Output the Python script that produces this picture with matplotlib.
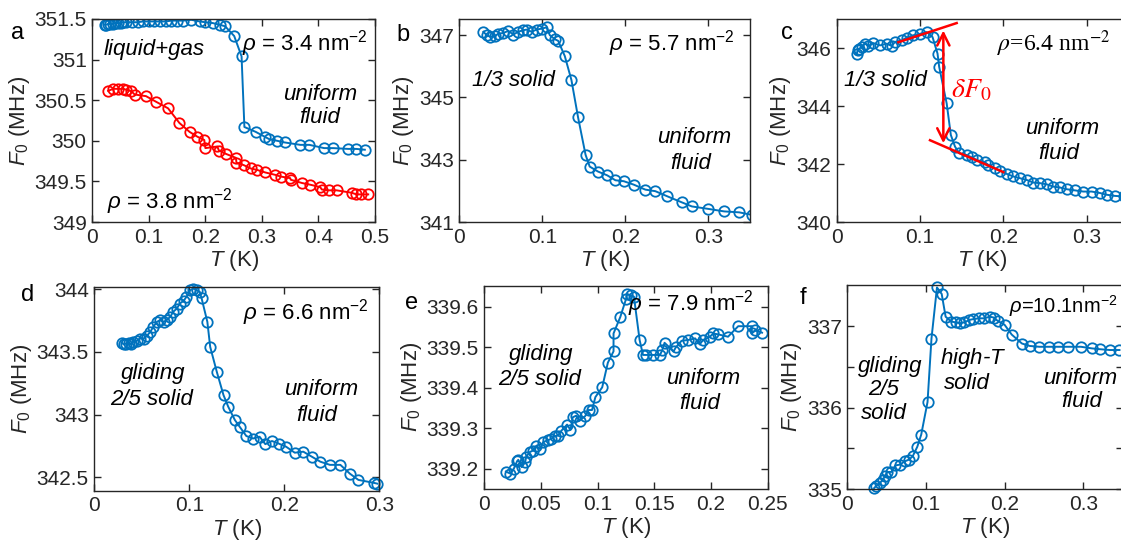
import matplotlib
matplotlib.use("Agg")
import matplotlib.pyplot as plt
from matplotlib.ticker import FixedLocator

plt.rcParams['font.family'] = ['Liberation Sans', 'DejaVu Sans']
plt.rcParams['mathtext.fontset'] = 'custom'
plt.rcParams['mathtext.rm'] = 'Liberation Sans'
plt.rcParams['mathtext.it'] = 'Liberation Sans:italic'
plt.rcParams['mathtext.bf'] = 'Liberation Sans:bold'

BLUE = '#0072BD'
RED = '#FF0000'
DARK = '#262626'

# ---------------- data ----------------
# panel a, rho = 3.4 nm^-2
a_blue_T = [0.022, 0.025, 0.028, 0.032, 0.036, 0.040, 0.045, 0.050, 0.055, 0.060, 0.070, 0.080,
            0.090, 0.100, 0.110, 0.120, 0.130, 0.140, 0.150, 0.160, 0.175, 0.190, 0.200, 0.213,
            0.225, 0.235, 0.251, 0.264, 0.269, 0.289, 0.305, 0.313, 0.327, 0.340, 0.368, 0.384,
            0.410, 0.426, 0.453, 0.467, 0.482]
a_blue_F = [351.43, 351.43, 351.44, 351.44, 351.44, 351.45, 351.45, 351.45, 351.46, 351.46, 351.46,
            351.46, 351.47, 351.47, 351.47, 351.47, 351.47, 351.48, 351.48, 351.48, 351.49, 351.47,
            351.46, 351.45, 351.43, 351.41, 351.29, 351.04, 350.17, 350.11, 350.05, 350.02, 350.00,
            349.98, 349.95, 349.95, 349.91, 349.91, 349.90, 349.90, 349.89]
# panel a, rho = 3.8 nm^-2
a_red_T = [0.028, 0.037, 0.046, 0.054, 0.060, 0.069, 0.075, 0.095, 0.113, 0.134, 0.154, 0.172,
           0.186, 0.198, 0.200, 0.221, 0.224, 0.236, 0.254, 0.255, 0.268, 0.280, 0.292, 0.306,
           0.324, 0.333, 0.350, 0.351, 0.371, 0.385, 0.403, 0.406, 0.418, 0.432, 0.459, 0.467,
           0.476, 0.488]
a_red_F = [350.615, 350.64, 350.64, 350.64, 350.63, 350.61, 350.57, 350.55, 350.48, 350.40, 350.22,
           350.11, 350.05, 350.01, 349.91, 349.93, 349.88, 349.84, 349.79, 349.73, 349.70, 349.66,
           349.64, 349.61, 349.58, 349.56, 349.54, 349.52, 349.48, 349.46, 349.43, 349.40, 349.39,
           349.39, 349.36, 349.34, 349.34, 349.34]

# panel b, rho = 5.7 nm^-2
b_T = [0.029, 0.033, 0.037, 0.043, 0.047, 0.053, 0.059, 0.065, 0.071, 0.077, 0.081, 0.087, 0.093,
       0.099, 0.105, 0.109, 0.115, 0.119, 0.127, 0.135, 0.143, 0.152, 0.157, 0.167, 0.178, 0.188,
       0.198, 0.210, 0.224, 0.236, 0.250, 0.268, 0.280, 0.300, 0.319, 0.337, 0.352]
b_F = [347.11, 347.00, 346.95, 346.97, 347.05, 347.07, 347.14, 347.02, 347.11, 347.16, 347.18,
       347.11, 347.18, 347.21, 347.25, 347.00, 346.87, 346.82, 346.33, 345.56, 344.36, 343.16,
       342.78, 342.62, 342.50, 342.34, 342.31, 342.20, 342.04, 341.99, 341.83, 341.63, 341.50,
       341.42, 341.34, 341.31, 341.23]

# panel c, rho = 6.4 nm^-2
c_T = [0.024, 0.025, 0.027, 0.030, 0.034, 0.038, 0.044, 0.052, 0.060, 0.066, 0.070, 0.078, 0.084,
       0.092, 0.100, 0.108, 0.115, 0.121, 0.123, 0.132, 0.137, 0.142, 0.147, 0.156, 0.162, 0.168,
       0.178, 0.182, 0.190, 0.196, 0.204, 0.212, 0.220, 0.228, 0.236, 0.244, 0.252, 0.260, 0.268,
       0.276, 0.286, 0.296, 0.306, 0.316, 0.324, 0.334, 0.345]
c_F = [345.78, 345.92, 345.98, 346.03, 346.15, 346.07, 346.17, 346.09, 346.15, 346.07, 346.21,
       346.26, 346.36, 346.44, 346.49, 346.55, 346.38, 345.81, 345.35, 344.09, 343.00, 342.60,
       342.37, 342.31, 342.23, 342.14, 342.06, 341.97, 341.85, 341.77, 341.66, 341.57, 341.51,
       341.45, 341.36, 341.34, 341.30, 341.22, 341.19, 341.13, 341.09, 341.05, 341.05, 341.00,
       340.94, 340.90, 340.88]
# panel c guide lines and arrow
c_upper_T = [0.074, 0.144]
c_upper_F = [346.20, 346.86]
c_lower_T = [0.112, 0.200]
c_lower_F = [342.82, 341.72]
c_arrow_T = 0.128
c_arrow_F = [346.70, 342.62]

# panel d, rho = 6.6 nm^-2
d_T = [0.029, 0.031, 0.033, 0.036, 0.039, 0.041, 0.045, 0.048, 0.052, 0.055, 0.059, 0.062, 0.066,
       0.069, 0.073, 0.076, 0.080, 0.083, 0.087, 0.090, 0.094, 0.097, 0.101, 0.104, 0.108, 0.111,
       0.113, 0.119, 0.122, 0.129, 0.136, 0.141, 0.148, 0.153, 0.160, 0.167, 0.174, 0.180, 0.187,
       0.194, 0.202, 0.211, 0.220, 0.229, 0.238, 0.248, 0.259, 0.269, 0.278, 0.294, 0.298]
d_F = [343.573, 343.56, 343.567, 343.573, 343.56, 343.58, 343.59, 343.607, 343.607, 343.626, 343.66,
       343.70, 343.74, 343.753, 343.74, 343.753, 343.78, 343.82, 343.846, 343.886, 343.907, 343.939,
       343.992, 344.005, 343.992, 343.98, 343.926, 343.74, 343.54, 343.34, 343.156, 343.063,
       342.957, 342.904, 342.83, 342.81, 342.824, 342.765, 342.79, 342.77, 342.744, 342.697,
       342.705, 342.665, 342.625, 342.60, 342.60, 342.53, 342.48, 342.457, 342.45]

# panel e, rho = 7.9 nm^-2
e_T = [0.019, 0.023, 0.026, 0.029, 0.030, 0.033, 0.036, 0.037, 0.040, 0.043, 0.046, 0.049, 0.052,
       0.056, 0.059, 0.062, 0.065, 0.068, 0.073, 0.076, 0.078, 0.081, 0.084, 0.089, 0.092, 0.095,
       0.098, 0.104, 0.109, 0.114, 0.114, 0.120, 0.125, 0.126, 0.129, 0.132, 0.137, 0.140, 0.143,
       0.149, 0.155, 0.157, 0.159, 0.167, 0.169, 0.174, 0.180, 0.186, 0.190, 0.193, 0.199, 0.202,
       0.206, 0.215, 0.224, 0.236, 0.236, 0.239, 0.245]
e_F = [339.193, 339.188, 339.200, 339.219, 339.222, 339.204, 339.216, 339.230, 339.241, 339.245,
       339.257, 339.249, 339.266, 339.270, 339.274, 339.280, 339.282, 339.294, 339.309, 339.296,
       339.327, 339.331, 339.319, 339.330, 339.345, 339.345, 339.377, 339.401, 339.462, 339.490,
       339.534, 339.575, 339.619, 339.631, 339.629, 339.625, 339.518, 339.481, 339.481, 339.481,
       339.481, 339.493, 339.511, 339.490, 339.500, 339.516, 339.518, 339.522, 339.507, 339.518,
       339.526, 339.534, 339.532, 339.526, 339.552, 339.552, 339.534, 339.542, 339.536]

# panel f, rho = 10.1 nm^-2
f_T = [0.034, 0.037, 0.041, 0.045, 0.048, 0.051, 0.056, 0.061, 0.067, 0.073, 0.078, 0.083, 0.089,
       0.094, 0.102, 0.107, 0.114, 0.120, 0.125, 0.132, 0.138, 0.143, 0.149, 0.155, 0.160, 0.167,
       0.174, 0.181, 0.186, 0.191, 0.200, 0.209, 0.222, 0.232, 0.244, 0.256, 0.268, 0.281, 0.297,
       0.311, 0.321, 0.334, 0.346]
f_F = [335.01, 335.04, 335.07, 335.11, 335.16, 335.21, 335.21, 335.29, 335.30, 335.34, 335.36,
       335.40, 335.52, 335.67, 336.07, 336.85, 337.48, 337.40, 337.12, 337.06, 337.05, 337.04,
       337.05, 337.08, 337.09, 337.10, 337.10, 337.12, 337.11, 337.07, 337.02, 336.90, 336.79,
       336.76, 336.75, 336.75, 336.75, 336.75, 336.75, 336.73, 336.72, 336.71, 336.71]

# ---------------- figure ----------------
W, H = 1121, 542
fig = plt.figure(figsize=(W / 100, H / 100), dpi=100)


def make_ax(left, top, right, bottom):
    return fig.add_axes([left / W, 1 - bottom / H, (right - left) / W, (bottom - top) / H])


TICK_FS = 15
ANN_FS = 16
MS = 7.5
MEW = 1.3
LW = 1.4


def style(ax, xlim, ylim, xticks, yticks, xlabels, ylabels):
    ax.set_xlim(*xlim)
    ax.set_ylim(*ylim)
    ax.set_xticks(xticks)
    ax.set_xticklabels(xlabels)
    ax.set_yticks(yticks)
    ax.set_yticklabels(ylabels)
    ax.tick_params(direction='in', top=True, right=True, length=5, width=1,
                   labelsize=TICK_FS, colors=DARK, pad=4)
    for s in ax.spines.values():
        s.set_color(DARK)
        s.set_linewidth(1.0)
    ax.set_xlabel(r'$T$ (K)', fontsize=TICK_FS + 1, color=DARK, labelpad=1)
    ax.set_ylabel(r'$F_0$ (MHz)', fontsize=TICK_FS + 1, color=DARK, labelpad=2)


def series(ax, T, F, color, clip=True):
    ax.plot(T, F, '-o', color=color, lw=LW, ms=MS, mew=MEW, mfc='none', clip_on=clip)


def ann(ax, x, y, s, ha='center', **kw):
    ax.text(x, y, s, ha=ha, va='center', fontsize=ANN_FS, style='italic', color='black', **kw)


def rho(ax, x, y, s, ha='right', **kw):
    kw.setdefault('fontsize', TICK_FS + 1)
    ax.text(x, y, s, ha=ha, va='center', color='black', **kw)


# panel a
ax = make_ax(92.3, 19, 375, 222)
series(ax, a_blue_T, a_blue_F, BLUE)
series(ax, a_red_T, a_red_F, RED)
style(ax, (0, 0.5), (349, 351.5), [0, 0.1, 0.2, 0.3, 0.4, 0.5], [349, 349.5, 350, 350.5, 351, 351.5],
      ['0', '0.1', '0.2', '0.3', '0.4', '0.5'], ['349', '349.5', '350', '350.5', '351', '351.5'])
ann(ax, 0.11, 351.12, 'liquid+gas')
ann(ax, 0.403, 350.57, 'uniform')
ann(ax, 0.403, 350.29, 'fluid')
rho(ax, 0.487, 351.2, r'$\rho$ = 3.4 nm$^{-2}$')
rho(ax, 0.137, 349.25, r'$\rho$ = 3.8 nm$^{-2}$', ha='center')

# panel b
ax = make_ax(459.3, 19, 750, 222)
series(ax, b_T, b_F, BLUE)
style(ax, (0, 0.35), (341, 347.52), [0, 0.1, 0.2, 0.3], [341, 343, 345, 347],
      ['0', '0.1', '0.2', '0.3'], ['341', '343', '345', '347'])
ann(ax, 0.065, 345.54, '1/3 solid')
ann(ax, 0.283, 343.72, 'uniform')
ann(ax, 0.279, 342.89, 'fluid')
rho(ax, 0.332, 346.72, r'$\rho$ = 5.7 nm$^{-2}$')

# panel c
ax = make_ax(836.7, 19, 1128.3, 222)
series(ax, c_T, c_F, BLUE)
ax.plot(c_upper_T, c_upper_F, color=RED, lw=1.8, clip_on=False)
ax.plot(c_lower_T, c_lower_F, color=RED, lw=1.8, clip_on=False)
ax.annotate('', xy=(c_arrow_T, c_arrow_F[0]), xytext=(c_arrow_T, c_arrow_F[1]),
            arrowprops=dict(arrowstyle='<->', color=RED, lw=1.8, mutation_scale=22))
style(ax, (0, 0.35), (340, 347), [0, 0.1, 0.2, 0.3], [340, 342, 344, 346],
      ['0', '0.1', '0.2', '0.3'], ['340', '342', '344', '346'])
ann(ax, 0.058, 344.89, '1/3 solid')
ann(ax, 0.270, 343.23, 'uniform')
ann(ax, 0.266, 342.37, 'fluid')
ax.text(0.162, 344.55, r'$\delta F_0$', ha='center', va='center', fontsize=20, color=RED,
        math_fontfamily='stix')
ax.text(0.329, 346.15, r'$\rho$=6.4 nm$^{-2}$', ha='right', va='center', fontsize=TICK_FS + 2,
        color='black', family='Liberation Serif', math_fontfamily='stix')

# panel d
ax = make_ax(94.3, 286.7, 379.3, 490.7)
series(ax, d_T, d_F, BLUE, clip=False)
style(ax, (0, 0.3), (342.394, 344.02), [0, 0.1, 0.2, 0.3], [342.5, 343, 343.5, 344],
      ['0', '0.1', '0.2', '0.3'], ['342.5', '343', '343.5', '344'])
ann(ax, 0.062, 343.33, 'gliding')
ann(ax, 0.060, 343.12, '2/5 solid')
ann(ax, 0.239, 343.20, 'uniform')
ann(ax, 0.234, 342.99, 'fluid')
rho(ax, 0.289, 343.81, r'$\rho$ = 6.6 nm$^{-2}$')

# panel e
ax = make_ax(484.3, 285.7, 767.7, 489)
series(ax, e_T, e_F, BLUE)
style(ax, (0, 0.25), (339.15, 339.652), [0, 0.05, 0.1, 0.15, 0.2, 0.25],
      [339.2, 339.3, 339.4, 339.5, 339.6],
      ['0', '0.05', '0.1', '0.15', '0.2', '0.25'], ['339.2', '339.3', '339.4', '339.5', '339.6'])
ann(ax, 0.0506, 339.481, 'gliding')
ann(ax, 0.049, 339.421, '2/5 solid')
ann(ax, 0.193, 339.423, 'uniform')
ann(ax, 0.190, 339.362, 'fluid')
rho(ax, 0.238, 339.608, r'$\rho$ = 7.9 nm$^{-2}$')

# panel f
ax = make_ax(847.3, 285, 1122.6, 489)
series(ax, f_T, f_F, BLUE, clip=False)
style(ax, (0, 0.35), (335, 337.51), [0, 0.1, 0.2, 0.3], [335, 336, 337],
      ['0', '0.1', '0.2', '0.3'], ['335', '336', '337'])
ax.yaxis.set_minor_locator(FixedLocator([335.5, 336.5]))
ax.tick_params(which='minor', direction='in', left=True, right=True, length=5, width=1, colors=DARK)
ann(ax, 0.054, 336.51, 'gliding')
ann(ax, 0.046, 336.22, '2/5')
ann(ax, 0.047, 335.93, 'solid')
ann(ax, 0.160, 336.61, 'high-$T$')
ann(ax, 0.152, 336.30, 'solid')
ann(ax, 0.296, 336.36, 'uniform')
ann(ax, 0.298, 336.08, 'fluid')
rho(ax, 0.205, 337.25, r'$\rho$=10.1nm$^{-2}$', ha='left', fontsize=14.5)

# panel letters
for lbl, (px, py) in zip(['a', 'b', 'c', 'd', 'e', 'f'],
                         [(18, 33), (403, 35), (787, 33), (28, 295), (412, 303), (803, 298)]):
    fig.text(px / W, 1 - py / H, lbl, ha='center', va='center', fontsize=TICK_FS + 2, color='black')

fig.savefig('out.png', dpi=100)
